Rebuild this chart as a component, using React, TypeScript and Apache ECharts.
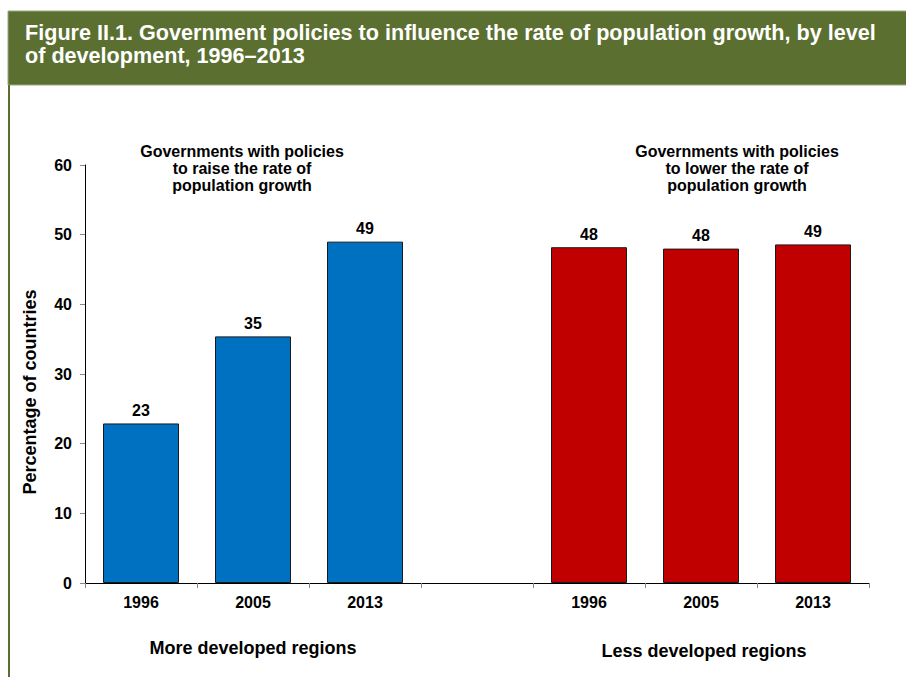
import React, { useEffect, useRef } from "react";
import * as echarts from "echarts";

const categories = ["1996", "2005", "2013", "", "1996", "2005", "2013"];
const moreDeveloped = [22.9, 35.4, 49.0];
const lessDeveloped = [48.2, 48.0, 48.6];
const yTicks = [0, 10, 20, 30, 40, 50, 60];
const yAxisTitle = "Percentage of countries";
const titleLines = [
  "Figure II.1. Government policies to influence the rate of population growth, by level",
  "of development, 1996–2013",
];
const raiseNote = ["Governments with policies", "to raise the rate of", "population growth"];
const lowerNote = ["Governments with policies", "to lower the rate of", "population growth"];
const groupNames = ["More developed regions", "Less developed regions"];

const FONT = '"Liberation Sans", Arial, sans-serif';

export default function App() {
  const ref = useRef<HTMLDivElement>(null);
  useEffect(() => {
    if (!ref.current) return;
    const chart = echarts.init(ref.current, undefined, { renderer: "svg" });
    const data: any[] = [];
    moreDeveloped.forEach((v) =>
      data.push({ value: v, itemStyle: { color: "#0070C0" } })
    );
    data.push({ value: null });
    lessDeveloped.forEach((v) =>
      data.push({ value: v, itemStyle: { color: "#C00000" } })
    );

    const noteText = (lines: string[], cx: number) => ({
      type: "text",
      x: cx,
      y: 143,
      style: {
        text: lines.join("\n"),
        fill: "#000",
        fontFamily: FONT,
        fontWeight: "bold",
        fontSize: 16,
        align: "center",
        verticalAlign: "top",
        lineHeight: 17,
      },
    });

    const groupText = (text: string, cx: number, cy: number) => ({
      type: "text",
      x: cx,
      y: cy,
      style: {
        text,
        fill: "#000",
        fontFamily: FONT,
        fontWeight: "bold",
        fontSize: 18,
        align: "center",
        verticalAlign: "middle",
      },
    });

    chart.setOption({
      animation: false,
      backgroundColor: "#fff",
      grid: { left: 85, right: 37, top: 165, bottom: 94 },
      xAxis: {
        type: "category",
        data: categories,
        axisLine: { lineStyle: { color: "#000", width: 1 } },
        axisTick: { show: true, length: 5, lineStyle: { color: "#888" } },
        axisLabel: {
          color: "#000",
          fontFamily: FONT,
          fontWeight: "bold",
          fontSize: 16,
          margin: 11,
        },
      },
      yAxis: {
        type: "value",
        min: 0,
        max: 60,
        interval: 10,
        splitLine: { show: false },
        axisLine: { show: true, lineStyle: { color: "#000", width: 1 } },
        axisTick: { show: true, length: 5, lineStyle: { color: "#888" } },
        axisLabel: {
          color: "#000",
          fontFamily: FONT,
          fontWeight: "bold",
          fontSize: 16,
          margin: 13,
          formatter: (v: number) => (yTicks.includes(v) ? String(v) : ""),
        },
      },
      series: [
        {
          type: "bar",
          data,
          barWidth: 76,
          itemStyle: { borderColor: "#1a1a1a", borderWidth: 1 },
          label: {
            show: true,
            position: "top",
            distance: 5,
            color: "#000",
            fontFamily: FONT,
            fontWeight: "bold",
            fontSize: 16,
            formatter: (p: any) => String(Math.round(p.value)),
          },
        },
      ],
      graphic: [
        {
          type: "rect",
          shape: { x: 8, y: 11, width: 900, height: 74 },
          style: { fill: "#5B7030", stroke: "#9aaa80", lineWidth: 1 },
          silent: true,
        },
        {
          type: "rect",
          shape: { x: 8, y: 85, width: 2, height: 600 },
          style: { fill: "#5B7030" },
          silent: true,
        },
        {
          type: "text",
          x: 25,
          y: 21,
          style: {
            text: titleLines.join("\n"),
            fill: "#fff",
            fontFamily: FONT,
            fontWeight: "bold",
            fontSize: 21.6,
            lineHeight: 23,
            verticalAlign: "top",
          },
        },
        {
          type: "text",
          x: 30,
          y: 392,
          rotation: Math.PI / 2,
          style: {
            text: yAxisTitle,
            fill: "#000",
            fontFamily: FONT,
            fontWeight: "bold",
            fontSize: 18,
            align: "center",
            verticalAlign: "middle",
          },
        },
        noteText(raiseNote, 242),
        noteText(lowerNote, 737),
        groupText(groupNames[0], 253, 648),
        groupText(groupNames[1], 704, 651),
      ],
    });
    return () => chart.dispose();
  }, []);
  return (
    <div
      ref={ref}
      style={{ position: "fixed", left: 0, top: 0, width: 906, height: 677 }}
    />
  );
}
